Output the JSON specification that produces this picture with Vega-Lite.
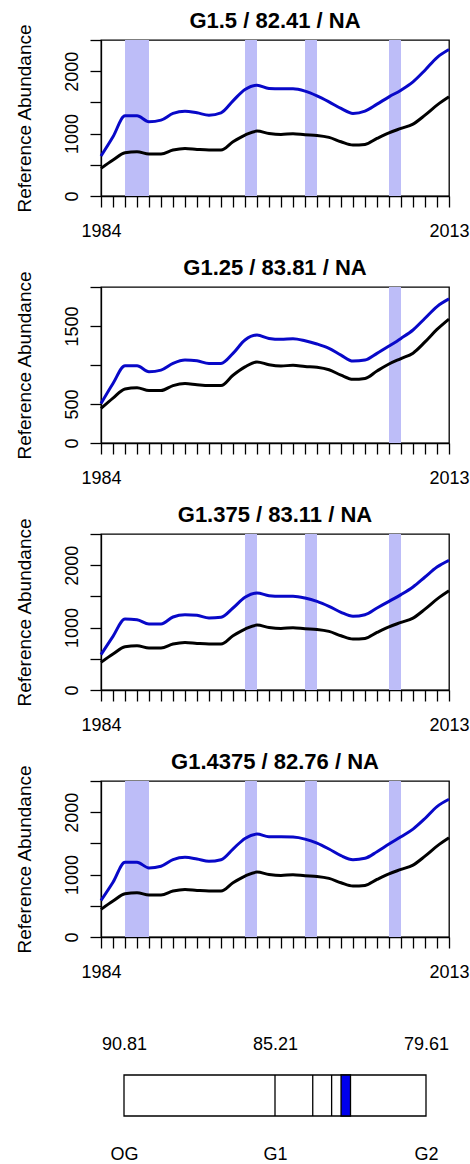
{
  "$schema": "https://vega.github.io/schema/vega-lite/v6.json",
  "background": "white",
  "autosize": {"type": "pad"},
  "padding": {"left": 14, "top": 9, "right": 0, "bottom": 0},
  "datasets": {
    "series": [
      {"year": 1984, "ref": 443, "b1": 640, "b2": 506, "b3": 566, "b4": 585},
      {"year": 1985, "ref": 576, "b1": 949, "b2": 763, "b3": 860, "b4": 878},
      {"year": 1986, "ref": 693, "b1": 1285, "b2": 990, "b3": 1138, "b4": 1197},
      {"year": 1987, "ref": 709, "b1": 1285, "b2": 990, "b3": 1127, "b4": 1197},
      {"year": 1988, "ref": 672, "b1": 1189, "b2": 913, "b3": 1058, "b4": 1106},
      {"year": 1989, "ref": 672, "b1": 1216, "b2": 934, "b3": 1058, "b4": 1133},
      {"year": 1990, "ref": 736, "b1": 1323, "b2": 1020, "b3": 1170, "b4": 1239},
      {"year": 1991, "ref": 763, "b1": 1360, "b2": 1063, "b3": 1207, "b4": 1277},
      {"year": 1992, "ref": 747, "b1": 1333, "b2": 1054, "b3": 1197, "b4": 1250},
      {"year": 1993, "ref": 736, "b1": 1296, "b2": 1020, "b3": 1154, "b4": 1213},
      {"year": 1994, "ref": 736, "b1": 1333, "b2": 1020, "b3": 1165, "b4": 1239},
      {"year": 1995, "ref": 869, "b1": 1525, "b2": 1149, "b3": 1314, "b4": 1410},
      {"year": 1996, "ref": 976, "b1": 1707, "b2": 1320, "b3": 1485, "b4": 1580},
      {"year": 1997, "ref": 1040, "b1": 1776, "b2": 1384, "b3": 1554, "b4": 1649},
      {"year": 1998, "ref": 1003, "b1": 1723, "b2": 1341, "b3": 1512, "b4": 1606},
      {"year": 1999, "ref": 987, "b1": 1717, "b2": 1329, "b3": 1501, "b4": 1606},
      {"year": 2000, "ref": 997, "b1": 1717, "b2": 1337, "b3": 1501, "b4": 1601},
      {"year": 2001, "ref": 981, "b1": 1680, "b2": 1311, "b3": 1474, "b4": 1569},
      {"year": 2002, "ref": 971, "b1": 1605, "b2": 1269, "b3": 1421, "b4": 1505},
      {"year": 2003, "ref": 939, "b1": 1509, "b2": 1213, "b3": 1341, "b4": 1410},
      {"year": 2004, "ref": 869, "b1": 1403, "b2": 1127, "b3": 1245, "b4": 1303},
      {"year": 2005, "ref": 816, "b1": 1323, "b2": 1050, "b3": 1181, "b4": 1239},
      {"year": 2006, "ref": 827, "b1": 1360, "b2": 1063, "b3": 1207, "b4": 1261},
      {"year": 2007, "ref": 923, "b1": 1472, "b2": 1149, "b3": 1314, "b4": 1367},
      {"year": 2008, "ref": 1013, "b1": 1589, "b2": 1243, "b3": 1421, "b4": 1489},
      {"year": 2009, "ref": 1083, "b1": 1696, "b2": 1341, "b3": 1528, "b4": 1606},
      {"year": 2010, "ref": 1152, "b1": 1829, "b2": 1449, "b3": 1651, "b4": 1729},
      {"year": 2011, "ref": 1296, "b1": 2016, "b2": 1599, "b3": 1811, "b4": 1899},
      {"year": 2012, "ref": 1456, "b1": 2219, "b2": 1749, "b3": 1971, "b4": 2090},
      {"year": 2013, "ref": 1589, "b1": 2347, "b2": 1847, "b3": 2078, "b4": 2207}
    ],
    "bands": [
      {"panel": "G1.5", "start": 1986, "end": 1988},
      {"panel": "G1.5", "start": 1996, "end": 1997},
      {"panel": "G1.5", "start": 2001, "end": 2002},
      {"panel": "G1.5", "start": 2008, "end": 2009},
      {"panel": "G1.25", "start": 2008, "end": 2009},
      {"panel": "G1.375", "start": 1996, "end": 1997},
      {"panel": "G1.375", "start": 2001, "end": 2002},
      {"panel": "G1.375", "start": 2008, "end": 2009},
      {"panel": "G1.4375", "start": 1986, "end": 1988},
      {"panel": "G1.4375", "start": 1996, "end": 1997},
      {"panel": "G1.4375", "start": 2001, "end": 2002},
      {"panel": "G1.4375", "start": 2008, "end": 2009}
    ],
    "scorebar": [
      {"track": "score", "kind": "range", "from": 90.81, "to": 79.61},
      {"track": "score", "kind": "cut", "from": 85.21, "to": 85.21},
      {"track": "score", "kind": "cut", "from": 83.81, "to": 83.81},
      {"track": "score", "kind": "cut", "from": 83.11, "to": 83.11},
      {"track": "score", "kind": "current", "from": 82.76, "to": 82.41}
    ]
  },
  "vconcat": [
    {
      "width": 348, "height": 156,
      "title": "G1.5 / 82.41 / NA",
      "layer": [
        {
          "data": {"name": "bands"},
          "transform": [{"filter": "datum.panel == 'G1.5'"}],
          "mark": {"type": "rect", "color": "#BDBDF8"},
          "encoding": {
            "x": {"field": "start", "type": "quantitative", "scale": {"domain": [1984, 2013], "nice": false, "zero": false},
                  "axis": {"values": [1984,1985,1986,1987,1988,1989,1990,1991,1992,1993,1994,1995,1996,1997,1998,1999,2000,2001,2002,2003,2004,2005,2006,2007,2008,2009,2010,2011,2012,2013], "tickCount": 40, "format": "d", "labelExpr": "datum.value == 1984 || datum.value == 2013 ? datum.label : ''"}},
            "x2": {"field": "end"}
          }
        },
        {
          "data": {"name": "series"},
          "mark": {"type": "line", "color": "#000000", "strokeWidth": 3, "interpolate": "monotone"},
          "encoding": {
            "x": {"field": "year", "type": "quantitative"},
            "y": {"field": "ref", "type": "quantitative", "title": "Reference Abundance", "scale": {"domain": [0, 2500], "nice": false, "zero": false},
                  "axis": {"values": [0, 500, 1000, 1500, 2000, 2500], "tickCount": 10, "format": "d", "labelExpr": "datum.value % 1000 == 0 ? datum.label : ''"}}
          }
        },
        {
          "data": {"name": "series"},
          "mark": {"type": "line", "color": "#0808C8", "strokeWidth": 3, "interpolate": "monotone"},
          "encoding": {
            "x": {"field": "year", "type": "quantitative"},
            "y": {"field": "b1", "type": "quantitative", "title": "Reference Abundance"}
          }
        }
      ]
    },
    {
      "width": 348, "height": 156,
      "title": "G1.25 / 83.81 / NA",
      "layer": [
        {
          "data": {"name": "bands"},
          "transform": [{"filter": "datum.panel == 'G1.25'"}],
          "mark": {"type": "rect", "color": "#BDBDF8"},
          "encoding": {
            "x": {"field": "start", "type": "quantitative", "scale": {"domain": [1984, 2013], "nice": false, "zero": false},
                  "axis": {"values": [1984,1985,1986,1987,1988,1989,1990,1991,1992,1993,1994,1995,1996,1997,1998,1999,2000,2001,2002,2003,2004,2005,2006,2007,2008,2009,2010,2011,2012,2013], "tickCount": 40, "format": "d", "labelExpr": "datum.value == 1984 || datum.value == 2013 ? datum.label : ''"}},
            "x2": {"field": "end"}
          }
        },
        {
          "data": {"name": "series"},
          "mark": {"type": "line", "color": "#000000", "strokeWidth": 3, "interpolate": "monotone"},
          "encoding": {
            "x": {"field": "year", "type": "quantitative"},
            "y": {"field": "ref", "type": "quantitative", "title": "Reference Abundance", "scale": {"domain": [0, 2000], "nice": false, "zero": false},
                  "axis": {"values": [0, 500, 1000, 1500, 2000], "tickCount": 10, "format": "d", "labelExpr": "datum.value == 1000 || datum.value == 2000 ? '' : datum.label"}}
          }
        },
        {
          "data": {"name": "series"},
          "mark": {"type": "line", "color": "#0808C8", "strokeWidth": 3, "interpolate": "monotone"},
          "encoding": {
            "x": {"field": "year", "type": "quantitative"},
            "y": {"field": "b2", "type": "quantitative", "title": "Reference Abundance"}
          }
        }
      ]
    },
    {
      "width": 348, "height": 156,
      "title": "G1.375 / 83.11 / NA",
      "layer": [
        {
          "data": {"name": "bands"},
          "transform": [{"filter": "datum.panel == 'G1.375'"}],
          "mark": {"type": "rect", "color": "#BDBDF8"},
          "encoding": {
            "x": {"field": "start", "type": "quantitative", "scale": {"domain": [1984, 2013], "nice": false, "zero": false},
                  "axis": {"values": [1984,1985,1986,1987,1988,1989,1990,1991,1992,1993,1994,1995,1996,1997,1998,1999,2000,2001,2002,2003,2004,2005,2006,2007,2008,2009,2010,2011,2012,2013], "tickCount": 40, "format": "d", "labelExpr": "datum.value == 1984 || datum.value == 2013 ? datum.label : ''"}},
            "x2": {"field": "end"}
          }
        },
        {
          "data": {"name": "series"},
          "mark": {"type": "line", "color": "#000000", "strokeWidth": 3, "interpolate": "monotone"},
          "encoding": {
            "x": {"field": "year", "type": "quantitative"},
            "y": {"field": "ref", "type": "quantitative", "title": "Reference Abundance", "scale": {"domain": [0, 2500], "nice": false, "zero": false},
                  "axis": {"values": [0, 500, 1000, 1500, 2000, 2500], "tickCount": 10, "format": "d", "labelExpr": "datum.value % 1000 == 0 ? datum.label : ''"}}
          }
        },
        {
          "data": {"name": "series"},
          "mark": {"type": "line", "color": "#0808C8", "strokeWidth": 3, "interpolate": "monotone"},
          "encoding": {
            "x": {"field": "year", "type": "quantitative"},
            "y": {"field": "b3", "type": "quantitative", "title": "Reference Abundance"}
          }
        }
      ]
    },
    {
      "width": 348, "height": 156,
      "title": "G1.4375 / 82.76 / NA",
      "layer": [
        {
          "data": {"name": "bands"},
          "transform": [{"filter": "datum.panel == 'G1.4375'"}],
          "mark": {"type": "rect", "color": "#BDBDF8"},
          "encoding": {
            "x": {"field": "start", "type": "quantitative", "scale": {"domain": [1984, 2013], "nice": false, "zero": false},
                  "axis": {"values": [1984,1985,1986,1987,1988,1989,1990,1991,1992,1993,1994,1995,1996,1997,1998,1999,2000,2001,2002,2003,2004,2005,2006,2007,2008,2009,2010,2011,2012,2013], "tickCount": 40, "format": "d", "labelExpr": "datum.value == 1984 || datum.value == 2013 ? datum.label : ''"}},
            "x2": {"field": "end"}
          }
        },
        {
          "data": {"name": "series"},
          "mark": {"type": "line", "color": "#000000", "strokeWidth": 3, "interpolate": "monotone"},
          "encoding": {
            "x": {"field": "year", "type": "quantitative"},
            "y": {"field": "ref", "type": "quantitative", "title": "Reference Abundance", "scale": {"domain": [0, 2500], "nice": false, "zero": false},
                  "axis": {"values": [0, 500, 1000, 1500, 2000, 2500], "tickCount": 10, "format": "d", "labelExpr": "datum.value % 1000 == 0 ? datum.label : ''"}}
          }
        },
        {
          "data": {"name": "series"},
          "mark": {"type": "line", "color": "#0808C8", "strokeWidth": 3, "interpolate": "monotone"},
          "encoding": {
            "x": {"field": "year", "type": "quantitative"},
            "y": {"field": "b4", "type": "quantitative", "title": "Reference Abundance"}
          }
        }
      ]
    },
    {
      "width": 302, "height": 88,
      "view": {"stroke": null},
      "data": {"name": "scorebar"},
      "resolve": {"axis": {"x": "independent"}},
      "layer": [
        {
          "transform": [{"filter": "datum.kind == 'range'"}],
          "mark": {"type": "rect", "fill": "white", "stroke": "black", "strokeWidth": 1.3},
          "encoding": {
            "x": {"field": "from", "type": "quantitative", "scale": {"domain": [79.61, 90.81], "reverse": true, "nice": false, "zero": false},
                  "axis": {"orient": "top", "values": [90.81, 85.21, 79.61], "tickCount": 10, "format": ".2f", "tickSize": 0, "domain": false, "offset": -47, "labelPadding": 25.7, "labelBaseline": "alphabetic", "title": null}},
            "x2": {"field": "to"},
            "y": {"field": "track", "type": "nominal", "scale": {"paddingInner": 0, "paddingOuter": 0.573, "align": 1}, "axis": null}
          }
        },
        {
          "transform": [{"filter": "datum.kind == 'cut'"}],
          "mark": {"type": "rect", "fill": null, "stroke": "black", "strokeWidth": 1.3},
          "encoding": {
            "x": {"field": "from", "type": "quantitative",
                  "axis": {"orient": "bottom", "values": [90.81, 85.21, 79.61], "tickCount": 10, "labelExpr": "datum.value > 88 ? 'OG' : datum.value > 82 ? 'G1' : 'G2'", "tickSize": 0, "domain": false, "labelPadding": 43, "labelBaseline": "alphabetic", "title": null}},
            "x2": {"field": "to"},
            "y": {"field": "track", "type": "nominal", "axis": null}
          }
        },
        {
          "transform": [{"filter": "datum.kind == 'current'"}],
          "mark": {"type": "rect", "fill": "#0000EE", "stroke": "black", "strokeWidth": 1.3},
          "encoding": {
            "x": {"field": "from", "type": "quantitative", "axis": null},
            "x2": {"field": "to"},
            "y": {"field": "track", "type": "nominal", "axis": null}
          }
        }
      ]
    }
  ],
  "spacing": 91,
  "bounds": "flush",
  "center": true,
  "config": {
    "font": "Liberation Sans",
    "view": {"stroke": "black", "strokeWidth": 1.3},
    "axis": {
      "grid": false,
      "domainColor": "black", "domainWidth": 1.3,
      "tickColor": "black", "tickWidth": 1.3, "tickSize": 11,
      "labelColor": "black", "labelFont": "Liberation Sans", "labelFontSize": 18,
      "titleColor": "black", "titleFont": "Liberation Sans", "titleFontSize": 19, "titleFontWeight": "normal",
      "labelFlush": false, "labelOverlap": false
    },
    "axisX": {"labelPadding": 29, "labelBaseline": "alphabetic", "title": null},
    "axisY": {"labelAngle": 270, "labelAlign": "center", "labelBaseline": "alphabetic", "labelPadding": 13, "minExtent": 50, "maxExtent": 50, "titlePadding": 20.7, "titleBaseline": "alphabetic"},
    "title": {"font": "Liberation Sans", "fontSize": 22, "fontWeight": "bold", "color": "black", "offset": -10, "baseline": "alphabetic", "anchor": "middle", "frame": "group"}
  }
}
